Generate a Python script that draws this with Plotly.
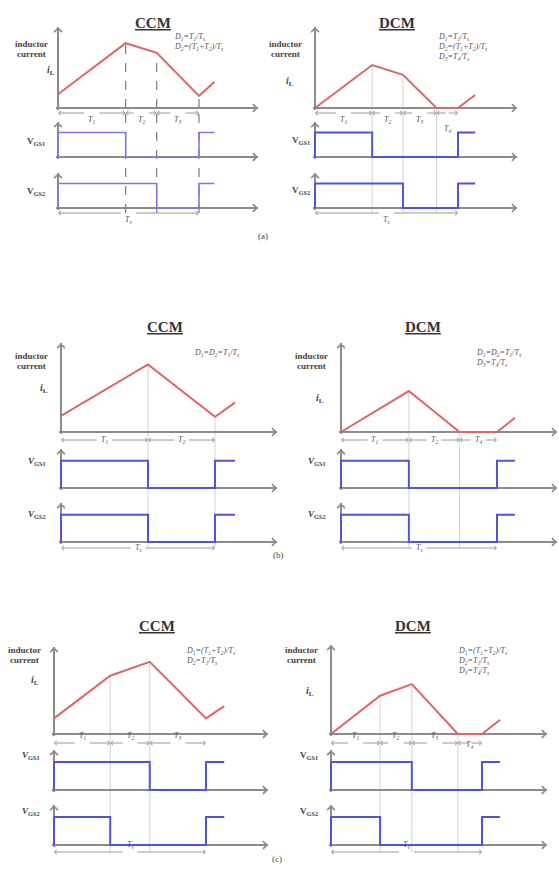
import numpy as np
import plotly.graph_objects as go

W, H = 559, 874
TS = 10          # switching period (time units)
GATE_HIGH = 7    # gate-drive high level (relative)

# ---------------- data (time in units where Ts = 10) ----------------
# (a) CCM
A_CCM_T = [0, 4.8, 7.0, 10, 11.1]
A_CCM_IL = [1.7, 8.0, 6.8, 1.5, 3.2]
A_CCM_G1_OFF, A_CCM_G2_OFF = 4.8, 7.0
A_CCM_SEGS = [(0, 4.8, "T<sub>1</sub>", False), (4.8, 7.0, "T<sub>2</sub>", False), (7.0, 10, "T<sub>3</sub>", False)]
A_CCM_D = ["D<sub>1</sub>=T<sub>1</sub>/T<sub>s</sub>", "D<sub>2</sub>=(T<sub>1</sub>+T<sub>2</sub>)/T<sub>s</sub>"]
A_CCM_GUIDES = [4.8, 7.0, 10]

# (a) DCM
A_DCM_T = [0, 4.0, 6.15, 8.5, 10, 11.2]
A_DCM_IL = [0, 5.3, 4.1, 0, 0, 1.6]
A_DCM_G1_OFF, A_DCM_G2_OFF = 4.0, 6.15
A_DCM_SEGS = [(0, 4.0, "T<sub>1</sub>", False), (4.0, 6.15, "T<sub>2</sub>", False),
              (6.15, 8.5, "T<sub>3</sub>", False), (8.5, 10, "T<sub>4</sub>", True)]
A_DCM_D = ["D<sub>1</sub>=T<sub>1</sub>/T<sub>s</sub>", "D<sub>2</sub>=(T<sub>1</sub>+T<sub>2</sub>)/T<sub>s</sub>",
           "D<sub>3</sub>=T<sub>4</sub>/T<sub>s</sub>"]
A_DCM_GUIDES = [4.0, 6.15, 8.5]

# (b) CCM
B_CCM_T = [0, 5.65, 10, 11.3]
B_CCM_IL = [1.8, 7.6, 1.7, 3.3]
B_CCM_G1_OFF, B_CCM_G2_OFF = 5.65, 5.65
B_CCM_SEGS = [(0, 5.65, "T<sub>1</sub>", False), (5.65, 10, "T<sub>2</sub>", False)]
B_CCM_D = ["D<sub>1</sub>=D<sub>2</sub>=T<sub>1</sub>/T<sub>s</sub>"]
B_CCM_GUIDES = [5.65, 10]

# (b) DCM
B_DCM_T = [0, 4.35, 7.6, 10, 11.15]
B_DCM_IL = [0, 4.6, 0, 0, 1.6]
B_DCM_G1_OFF, B_DCM_G2_OFF = 4.35, 4.35
B_DCM_SEGS = [(0, 4.35, "T<sub>1</sub>", False), (4.35, 7.6, "T<sub>2</sub>", False), (7.6, 10, "T<sub>4</sub>", False)]
B_DCM_D = ["D<sub>1</sub>=D<sub>2</sub>=T<sub>1</sub>/T<sub>s</sub>", "D<sub>3</sub>=T<sub>4</sub>/T<sub>s</sub>"]
B_DCM_GUIDES = [4.35, 7.6]

# (c) CCM
C_CCM_T = [0, 3.7, 6.3, 10, 11.2]
C_CCM_IL = [1.8, 6.7, 8.3, 1.8, 3.2]
C_CCM_G1_OFF, C_CCM_G2_OFF = 6.3, 3.7
C_CCM_SEGS = [(0, 3.7, "T<sub>1</sub>", False), (3.7, 6.3, "T<sub>2</sub>", False), (6.3, 10, "T<sub>3</sub>", False)]
C_CCM_D = ["D<sub>1</sub>=(T<sub>1</sub>+T<sub>2</sub>)/T<sub>s</sub>", "D<sub>2</sub>=T<sub>1</sub>/T<sub>s</sub>"]
C_CCM_GUIDES = [3.7, 6.3]

# (c) DCM
C_DCM_T = [0, 3.25, 5.35, 8.4, 10, 11.2]
C_DCM_IL = [0, 4.3, 5.6, 0, 0, 1.6]
C_DCM_G1_OFF, C_DCM_G2_OFF = 5.35, 3.25
C_DCM_SEGS = [(0, 3.25, "T<sub>1</sub>", False), (3.25, 5.35, "T<sub>2</sub>", False),
              (5.35, 8.4, "T<sub>3</sub>", False), (8.4, 10, "T<sub>4</sub>", True)]
C_DCM_D = ["D<sub>1</sub>=(T<sub>1</sub>+T<sub>2</sub>)/T<sub>s</sub>", "D<sub>2</sub>=T<sub>1</sub>/T<sub>s</sub>",
           "D<sub>3</sub>=T<sub>4</sub>/T<sub>s</sub>"]
C_DCM_GUIDES = [3.25, 5.35, 8.4]

# ---------------- layout geometry (pixels) ----------------
panels = [
    dict(title="CCM", tpos=(133, 13), x0=58, xts=199, xend=258,
         rows=[(108, 27), (157, 122), (208, 173)],
         T=A_CCM_T, IL=A_CCM_IL, g1=A_CCM_G1_OFF, g2=A_CCM_G2_OFF, end=A_CCM_T[-1],
         segs=A_CCM_SEGS, dim_y=113, ts_y=213, guides=A_CCM_GUIDES, dashed=True,
         ind=(50, 37), il=(45, 62), glab=[(47, 134), (47, 184)], gitalic=False,
         D=A_CCM_D, dpos=(172, 30), gwidth=1.6, gcolor="#7a7ae6"),
    dict(title="DCM", tpos=(417, 13), x0=315, xts=458, xend=517,
         rows=[(108, 27), (157, 122), (208, 173)],
         T=A_DCM_T, IL=A_DCM_IL, g1=A_DCM_G1_OFF, g2=A_DCM_G2_OFF, end=A_DCM_T[-1],
         segs=A_DCM_SEGS, dim_y=113, ts_y=213, guides=A_DCM_GUIDES, dashed=False,
         ind=(304, 37), il=(290, 73), glab=[(312, 133), (312, 183)], gitalic=False,
         D=A_DCM_D, dpos=(436, 30), gwidth=2, gcolor="#5252dc"),
    dict(title="CCM", tpos=(145, 327), x0=61, xts=215, xend=277,
         rows=[(432, 343), (488, 449), (542, 503)],
         T=B_CCM_T, IL=B_CCM_IL, g1=B_CCM_G1_OFF, g2=B_CCM_G2_OFF, end=B_CCM_T[-1],
         segs=B_CCM_SEGS, dim_y=440, ts_y=548, guides=B_CCM_GUIDES, dashed=False,
         ind=(50, 356), il=(38, 389), glab=[(48, 461), (48, 514)], gitalic=True,
         D=B_CCM_D, dpos=(192, 353), gwidth=2, gcolor="#5252dc"),
    dict(title="DCM", tpos=(443, 327), x0=341, xts=497, xend=557,
         rows=[(432, 343), (488, 449), (542, 503)],
         T=B_DCM_T, IL=B_DCM_IL, g1=B_DCM_G1_OFF, g2=B_DCM_G2_OFF, end=B_DCM_T[-1],
         segs=B_DCM_SEGS, dim_y=440, ts_y=548, guides=B_DCM_GUIDES, dashed=False,
         ind=(330, 356), il=(320, 398), glab=[(328, 461), (328, 514)], gitalic=True,
         D=B_DCM_D, dpos=(474, 353), gwidth=2, gcolor="#5252dc"),
    dict(title="CCM", tpos=(137, 636), x0=54, xts=206, xend=268,
         rows=[(734, 647), (790, 750), (845, 805)],
         T=C_CCM_T, IL=C_CCM_IL, g1=C_CCM_G1_OFF, g2=C_CCM_G2_OFF, end=C_CCM_T[-1],
         segs=C_CCM_SEGS, dim_y=743, ts_y=852, guides=C_CCM_GUIDES, dashed=False,
         ind=(43, 657), il=(29, 689), glab=[(42, 763), (42, 819)], gitalic=True,
         D=C_CCM_D, dpos=(184, 658), gwidth=2, gcolor="#5252dc"),
    dict(title="DCM", tpos=(433, 636), x0=331, xts=482, xend=547,
         rows=[(734, 645), (790, 750), (845, 805)],
         T=C_DCM_T, IL=C_DCM_IL, g1=C_DCM_G1_OFF, g2=C_DCM_G2_OFF, end=C_DCM_T[-1],
         segs=C_DCM_SEGS, dim_y=743, ts_y=852, guides=C_DCM_GUIDES, dashed=False,
         ind=(320, 657), il=(310, 700), glab=[(320, 763), (320, 819)], gitalic=False,
         D=C_DCM_D, dpos=(456, 658), gwidth=2, gcolor="#5252dc"),
]
PANEL_LABELS = [("(a)", 263, 229), ("(b)", 278, 555), ("(c)", 277, 866)]

SERIF = "Liberation Serif, Times New Roman, serif"
AXIS_C = "#8c8c8c"
RED = "#e06468"


def px(x):
    return x / W


def py(y):
    return 1 - y / H


def aid(n):
    return "" if n == 1 else str(n)


fig = go.Figure()
layout = {}
annotations = []
shapes = []

for p, P in enumerate(panels):
    ux = (P["xts"] - P["x0"]) / TS
    xpad = 1.6 / ux
    xmax = (P["xend"] - P["x0"]) / ux
    xdom = [(P["x0"] - 1.6) / W, P["xend"] / W]
    ids = []
    for s, (ay, ty) in enumerate(P["rows"]):
        n = p * 3 + s + 1
        ids.append(n)
        uy = (ay - ty) / 10
        ypad = 1.6 / uy
        ydom = [1 - (ay + 1.6) / H, 1 - ty / H]
        common = dict(showgrid=False, showticklabels=False, ticks="", showline=False,
                      zeroline=True, zerolinecolor=AXIS_C, zerolinewidth=2, fixedrange=True)
        layout["xaxis" + aid(n)] = dict(domain=xdom, range=[-xpad, xmax], anchor="y" + aid(n), **common)
        layout["yaxis" + aid(n)] = dict(domain=ydom, range=[-ypad, 10], anchor="x" + aid(n), **common)
        # axis arrowheads
        annotations.append(dict(x=xmax, y=0, xref="x" + aid(n), yref="y" + aid(n), ax=-7, ay=0,
                                axref="pixel", ayref="pixel", showarrow=True, arrowhead=4, arrowsize=1,
                                arrowwidth=1.5, arrowcolor=AXIS_C, text=""))
        annotations.append(dict(x=0, y=10, xref="x" + aid(n), yref="y" + aid(n), ax=0, ay=7,
                                axref="pixel", ayref="pixel", showarrow=True, arrowhead=4, arrowsize=1,
                                arrowwidth=1.5, arrowcolor=AXIS_C, text=""))
    c, g1, g2 = ids
    xc = "x" + aid(c)

    # inductor current
    fig.add_trace(go.Scatter(x=P["T"], y=P["IL"], mode="lines", line=dict(color=RED, width=2),
                             xaxis=xc, yaxis="y" + aid(c), hoverinfo="skip"))
    # gate signals
    for gid, off in ((g1, P["g1"]), (g2, P["g2"])):
        fig.add_trace(go.Scatter(x=[0, 0, off, TS, P["end"]], y=[0, GATE_HIGH, 0, GATE_HIGH, GATE_HIGH],
                                 mode="lines", line=dict(color=P["gcolor"], width=P["gwidth"], shape="hv"),
                                 xaxis="x" + aid(gid), yaxis="y" + aid(gid), hoverinfo="skip"))

    # guide lines
    gl = dict(color="#6e6e6e", width=1.1, dash="dash") if P["dashed"] else dict(color="#d2d2d2", width=1)
    for t in P["guides"]:
        v = float(np.interp(t, P["T"], P["IL"]))
        shapes.append(dict(type="line", xref=xc, yref="y" + aid(c), x0=t, x1=t, y0=0, y1=v,
                           line=gl, layer="below"))
        shapes.append(dict(type="line", xref=xc, yref="paper", x0=t, x1=t,
                           y0=py(P["ts_y"]), y1=py(P["rows"][0][0]), line=gl, layer="below"))

    # dimension arrows (two half-arrows around a centred label)
    dimfont = dict(family=SERIF, size=8, color="#555")

    def dim(a, b, label, yy, below=False, gap_px=6):
        mid = (a + b) / 2
        gap = 0 if below else gap_px / ux
        for tail, head in ((mid - gap, a), (mid + gap, b)):
            annotations.append(dict(x=head, y=py(yy), xref=xc, yref="paper", ax=tail, axref=xc, ay=0,
                                    ayref="pixel", showarrow=True, arrowhead=4, arrowsize=0.8,
                                    arrowwidth=1, arrowcolor="#9a9a9a", text=""))
        annotations.append(dict(x=mid, y=py(yy + 9 if below else yy), xref=xc, yref="paper",
                                showarrow=False, text="<i>" + label + "</i>", font=dimfont))

    for a, b, label, below in P["segs"]:
        dim(a, b, label, P["dim_y"], below)
    dim(0, TS, "T<sub>s</sub>", P["ts_y"])

    # texts
    annotations.append(dict(x=px(P["tpos"][0]), y=py(P["tpos"][1]), xref="paper", yref="paper",
                            text="<b><u>" + P["title"] + "</u></b>", showarrow=False,
                            font=dict(family=SERIF, size=15, color="#333")))
    for k, word in enumerate(("inductor", "current")):
        annotations.append(dict(x=px(P["ind"][0] - (0 if k == 0 else 2)), y=py(P["ind"][1] + 10 * k),
                                xref="paper", yref="paper", xanchor="right",
                                text="<b>" + word + "</b>", showarrow=False,
                                font=dict(family=SERIF, size=9, color="#444")))
    annotations.append(dict(x=px(P["il"][0]), y=py(P["il"][1]), xref="paper", yref="paper",
                            text="<b><i>i</i><sub>L</sub></b>", showarrow=False,
                            font=dict(family=SERIF, size=10, color="#444")))
    for k, (gx, gy) in enumerate(P["glab"]):
        v = "<i>V</i>" if P["gitalic"] else "V"
        annotations.append(dict(x=px(gx), y=py(gy), xref="paper", yref="paper", xanchor="right",
                                text="<b>" + v + "<sub>GS%d</sub></b>" % (k + 1), showarrow=False,
                                font=dict(family=SERIF, size=9, color="#444")))
    for k, line in enumerate(P["D"]):
        annotations.append(dict(x=px(P["dpos"][0]), y=py(P["dpos"][1] + 10 * k), xref="paper", yref="paper",
                                xanchor="left", text="<i>" + line + "</i>", showarrow=False,
                                font=dict(family=SERIF, size=8, color="#555")))

for lab, lx, ly in PANEL_LABELS:
    annotations.append(dict(x=px(lx), y=py(ly), xref="paper", yref="paper", text=lab, showarrow=False,
                            font=dict(family=SERIF, size=9, color="#444")))

fig.update_layout(width=W, height=H, margin=dict(l=0, r=0, t=0, b=0), showlegend=False,
                  paper_bgcolor="white", plot_bgcolor="rgba(0,0,0,0)", hovermode=False,
                  annotations=annotations, shapes=shapes, **layout)
fig.write_html("out.html")
